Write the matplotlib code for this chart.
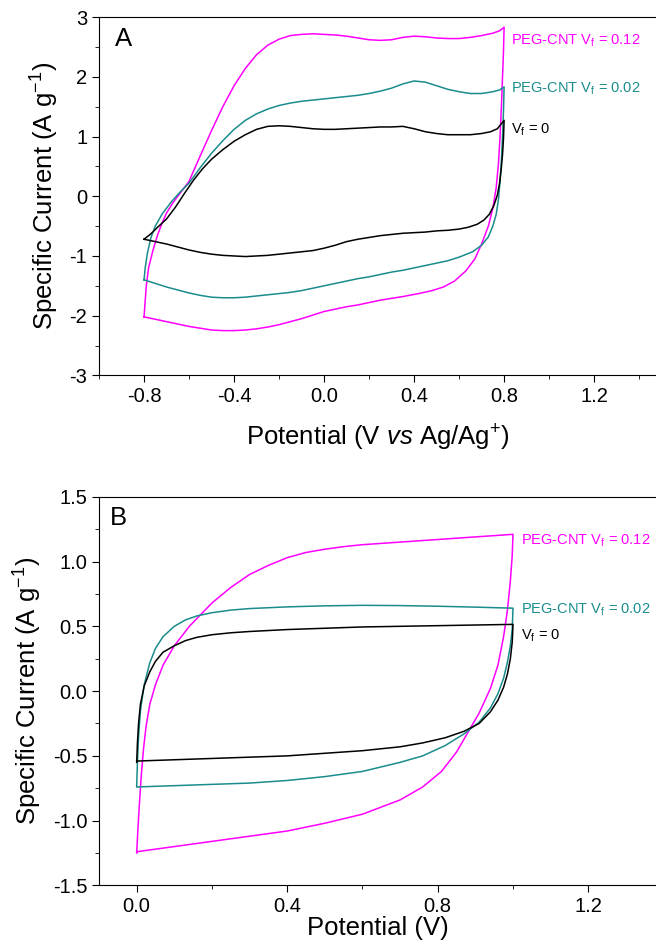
import matplotlib.pyplot as plt
from matplotlib.ticker import MultipleLocator

plt.rcParams['font.family'] = ['Liberation Sans', 'DejaVu Sans']
plt.rcParams['mathtext.fontset'] = 'custom'
plt.rcParams['mathtext.rm'] = 'Liberation Sans'
plt.rcParams['mathtext.it'] = 'Liberation Sans:italic'
plt.rcParams['axes.unicode_minus'] = False

MAG = '#ff00ff'
TEAL = '#1a8c8c'

# ---------------- panel A : CV vs Ag/Ag+ ----------------
a_pot_012 = [-0.8, -0.795, -0.79, -0.78, -0.76, -0.74, -0.72, -0.7, -0.67, -0.64, -0.6, -0.55, -0.5, -0.45,
             -0.4, -0.35, -0.3, -0.25, -0.2, -0.15, -0.1, -0.05, 0.0, 0.05, 0.1, 0.15, 0.2, 0.25, 0.3,
             0.35, 0.4, 0.45, 0.5, 0.55, 0.6, 0.65, 0.7, 0.75, 0.78, 0.8,
             0.797, 0.793, 0.788, 0.782, 0.775, 0.765, 0.75, 0.73, 0.7, 0.67, 0.63, 0.58, 0.53, 0.48,
             0.42, 0.35, 0.3, 0.25, 0.2, 0.15, 0.1, 0.05, 0.0, -0.05, -0.1, -0.15, -0.2, -0.25, -0.3,
             -0.35, -0.4, -0.45, -0.5, -0.55, -0.6, -0.65, -0.7, -0.75, -0.8]
a_cur_012 = [-2.02, -1.75, -1.5, -1.2, -0.9, -0.65, -0.45, -0.28, -0.1, 0.05, 0.25, 0.68, 1.1, 1.5,
             1.85, 2.14, 2.37, 2.53, 2.63, 2.69, 2.71, 2.72, 2.71, 2.7, 2.68, 2.65, 2.62, 2.61, 2.62,
             2.66, 2.68, 2.67, 2.65, 2.64, 2.64, 2.66, 2.69, 2.73, 2.77, 2.83,
             2.4, 2.0, 1.5, 1.0, 0.55, 0.15, -0.2, -0.5, -0.8, -1.05, -1.25, -1.42, -1.52, -1.58,
             -1.63, -1.68, -1.71, -1.74, -1.78, -1.82, -1.85, -1.89, -1.93, -1.99, -2.05, -2.1, -2.15, -2.19, -2.22,
             -2.24, -2.25, -2.25, -2.24, -2.21, -2.18, -2.14, -2.1, -2.06, -2.02]

a_pot_002 = [-0.8, -0.795, -0.785, -0.77, -0.75, -0.72, -0.68, -0.64, -0.6, -0.55, -0.5, -0.45, -0.4,
             -0.35, -0.3, -0.25, -0.2, -0.15, -0.1, -0.05, 0.0, 0.05, 0.1, 0.15, 0.2, 0.25, 0.3, 0.35,
             0.4, 0.45, 0.5, 0.55, 0.6, 0.65, 0.7, 0.75, 0.78, 0.8,
             0.797, 0.793, 0.788, 0.782, 0.775, 0.765, 0.75, 0.73, 0.7, 0.66, 0.6, 0.55, 0.5, 0.45,
             0.4, 0.35, 0.3, 0.25, 0.2, 0.15, 0.1, 0.05, 0.0, -0.05, -0.1, -0.15, -0.2, -0.25, -0.3,
             -0.35, -0.4, -0.45, -0.5, -0.55, -0.6, -0.65, -0.7, -0.75, -0.8]
a_cur_002 = [-1.4, -1.2, -0.95, -0.7, -0.5, -0.3, -0.1, 0.07, 0.22, 0.48, 0.72, 0.93, 1.12,
             1.27, 1.38, 1.46, 1.52, 1.56, 1.59, 1.61, 1.63, 1.65, 1.67, 1.69, 1.72, 1.76, 1.81, 1.88,
             1.93, 1.91, 1.85, 1.79, 1.75, 1.72, 1.72, 1.75, 1.78, 1.83,
             1.4, 1.0, 0.6, 0.25, -0.05, -0.3, -0.5, -0.68, -0.82, -0.93, -1.02, -1.08, -1.12, -1.16,
             -1.2, -1.24, -1.27, -1.31, -1.35, -1.38, -1.42, -1.46, -1.5, -1.54, -1.58, -1.61, -1.63, -1.65, -1.67,
             -1.69, -1.7, -1.7, -1.69, -1.66, -1.62, -1.57, -1.52, -1.46, -1.4]

a_pot_0 = [-0.8, -0.77, -0.74, -0.7, -0.66, -0.62, -0.58, -0.54, -0.5, -0.45, -0.4, -0.35, -0.3, -0.25,
           -0.2, -0.15, -0.1, -0.05, 0.0, 0.05, 0.1, 0.15, 0.2, 0.25, 0.3, 0.35, 0.4, 0.45, 0.5, 0.55,
           0.6, 0.65, 0.7, 0.74, 0.77, 0.8,
           0.797, 0.793, 0.787, 0.78, 0.77, 0.755, 0.735, 0.71, 0.68, 0.64, 0.6, 0.55, 0.5, 0.45,
           0.4, 0.35, 0.3, 0.25, 0.2, 0.15, 0.1, 0.05, 0.0, -0.05, -0.1, -0.15, -0.2, -0.25, -0.3,
           -0.35, -0.4, -0.45, -0.5, -0.55, -0.6, -0.65, -0.7, -0.75, -0.8]
a_cur_0 = [-0.72, -0.63, -0.52, -0.38, -0.18, 0.05, 0.27, 0.46, 0.62, 0.78, 0.92, 1.03, 1.12, 1.17,
           1.18, 1.17, 1.15, 1.13, 1.12, 1.12, 1.13, 1.14, 1.15, 1.16, 1.16, 1.17, 1.13, 1.08, 1.05, 1.03,
           1.03, 1.03, 1.05, 1.08, 1.13, 1.27,
           0.95, 0.7, 0.45, 0.22, 0.02, -0.15, -0.3, -0.4, -0.47, -0.52, -0.55, -0.57, -0.58, -0.6,
           -0.61, -0.62, -0.64, -0.66, -0.69, -0.72, -0.76, -0.82, -0.87, -0.91, -0.93, -0.95, -0.97, -0.99, -1.0,
           -1.01, -1.0, -0.99, -0.97, -0.94, -0.9, -0.85, -0.8, -0.76, -0.72]

# ---------------- panel B : CV vs potential ----------------
b_pot_012 = [0.0, 0.003, 0.007, 0.012, 0.018, 0.025, 0.035, 0.05, 0.07, 0.1, 0.14, 0.2, 0.25, 0.3, 0.35,
             0.4, 0.45, 0.5, 0.55, 0.6, 0.65, 0.7, 0.75, 0.8, 0.85, 0.9, 0.95, 1.0,
             0.998, 0.993, 0.985, 0.975, 0.96, 0.94, 0.91, 0.88, 0.85, 0.81, 0.76, 0.7, 0.6, 0.5, 0.4,
             0.3, 0.2, 0.1, 0.0]
b_cur_012 = [-1.25, -1.08, -0.88, -0.66, -0.45, -0.27, -0.1, 0.05, 0.2, 0.35, 0.5, 0.68, 0.8, 0.9, 0.97,
             1.03, 1.07, 1.095, 1.115, 1.13, 1.14, 1.15, 1.16, 1.17, 1.18, 1.19, 1.2, 1.21,
             1.05, 0.85, 0.62, 0.42, 0.2, 0.02, -0.17, -0.32, -0.47, -0.62, -0.74, -0.84, -0.95, -1.02, -1.08,
             -1.12, -1.16, -1.2, -1.24]

b_pot_002 = [0.0, 0.002, 0.005, 0.01, 0.02, 0.035, 0.05, 0.07, 0.1, 0.13, 0.16, 0.2, 0.25, 0.3, 0.4,
             0.5, 0.6, 0.7, 0.8, 0.9, 1.0,
             0.998, 0.993, 0.985, 0.975, 0.96, 0.94, 0.91, 0.87, 0.82, 0.76, 0.7, 0.6, 0.5, 0.4, 0.3,
             0.2, 0.1, 0.0]
b_cur_002 = [-0.73, -0.55, -0.35, -0.15, 0.05, 0.22, 0.33, 0.42, 0.5, 0.55, 0.58, 0.605, 0.625, 0.637, 0.65,
             0.658, 0.662, 0.66, 0.655, 0.648, 0.64,
             0.48, 0.35, 0.22, 0.1, -0.02, -0.13, -0.24, -0.33, -0.42, -0.5, -0.55, -0.62, -0.66, -0.69, -0.71,
             -0.72, -0.73, -0.74]

b_pot_0 = [0.0, 0.002, 0.005, 0.01, 0.02, 0.035, 0.05, 0.07, 0.1, 0.13, 0.16, 0.2, 0.25, 0.3, 0.4,
           0.5, 0.6, 0.7, 0.8, 0.9, 1.0,
           0.998, 0.993, 0.985, 0.975, 0.96, 0.94, 0.91, 0.87, 0.82, 0.76, 0.7, 0.6, 0.5, 0.4, 0.3,
           0.2, 0.1, 0.0]
b_cur_0 = [-0.55, -0.4, -0.25, -0.1, 0.04, 0.15, 0.23, 0.3, 0.35, 0.39, 0.415, 0.435, 0.45, 0.46, 0.475,
           0.485, 0.495, 0.5, 0.505, 0.51, 0.515,
           0.38, 0.25, 0.13, 0.03, -0.07, -0.16, -0.25, -0.31, -0.36, -0.4, -0.43, -0.46, -0.48, -0.5, -0.51,
           -0.52, -0.53, -0.54]

labels = ['PEG-CNT V$_\\mathregular{f}$ = 0.12', 'PEG-CNT V$_\\mathregular{f}$ = 0.02', 'V$_\\mathregular{f}$ = 0']
ylab = 'Specific Current (A g$^{\\mathregular{-1}}$)'

fig = plt.figure(figsize=(6.56, 9.48), dpi=100)
axA = fig.add_axes([0.151, 0.604, 0.849, 0.378])
axB = fig.add_axes([0.151, 0.066, 0.849, 0.410])


def style(ax):
    ax.spines['right'].set_visible(False)
    ax.tick_params(which='both', direction='out', top=False, right=False, labelsize=14.5)
    ax.tick_params(which='major', length=5)
    ax.tick_params(which='minor', length=3)


#------------------------------------------------------------
axA.plot(a_pot_012, a_cur_012, color=MAG, lw=1.1)
axA.plot(a_pot_002, a_cur_002, color=TEAL, lw=1.1)
axA.plot(a_pot_0, a_cur_0, color='black', lw=1.1)
axA.set_xlim(-1.0, 1.475)
axA.set_ylim(-3, 3)
axA.xaxis.set_major_locator(MultipleLocator(0.4))
axA.xaxis.set_minor_locator(MultipleLocator(0.2))
axA.yaxis.set_major_locator(MultipleLocator(1))
axA.yaxis.set_minor_locator(MultipleLocator(0.5))
axA.xaxis.set_major_formatter(plt.FuncFormatter(lambda v, p: f'{v:.1f}'))
style(axA)
axA.set_xticks([-0.8, -0.4, 0.0, 0.4, 0.8, 1.2])
axA.set_ylabel(ylab, fontsize=18.5, labelpad=6)
axA.set_xlabel('Potential (V $\\it{vs}$ Ag/Ag$^{\\mathregular{+}}$)', fontsize=18.5, labelpad=12)
axA.text(-0.93, 2.52, 'A', fontsize=18.5)
axA.text(0.83, 2.6, labels[0], color=MAG, fontsize=10.5, va='center')
axA.text(0.83, 1.8, labels[1], color=TEAL, fontsize=10.5, va='center')
axA.text(0.83, 1.12, labels[2], color='black', fontsize=10.5, va='center')

#------------------------------------------------------------
axB.plot(b_pot_012, b_cur_012, color=MAG, lw=1.1)
axB.plot(b_pot_002, b_cur_002, color=TEAL, lw=1.1)
axB.plot(b_pot_0, b_cur_0, color='black', lw=1.1)
axB.set_xlim(-0.1, 1.38)
axB.set_ylim(-1.5, 1.5)
axB.xaxis.set_major_locator(MultipleLocator(0.4))
axB.xaxis.set_minor_locator(MultipleLocator(0.2))
axB.yaxis.set_major_locator(MultipleLocator(0.5))
axB.yaxis.set_minor_locator(MultipleLocator(0.25))
axB.xaxis.set_major_formatter(plt.FuncFormatter(lambda v, p: f'{v:.1f}'))
axB.yaxis.set_major_formatter(plt.FuncFormatter(lambda v, p: f'{v:.1f}'))
style(axB)
axB.set_ylabel(ylab, fontsize=18.5, labelpad=6)
axB.set_xlabel('Potential (V)', fontsize=18.5, labelpad=0)
axB.text(-0.07, 1.28, 'B', fontsize=18.5)
axB.text(1.02, 1.16, labels[0], color=MAG, fontsize=10.5, va='center')
axB.text(1.02, 0.63, labels[1], color=TEAL, fontsize=10.5, va='center')
axB.text(1.02, 0.43, labels[2], color='black', fontsize=10.5, va='center')

fig.savefig('out.png', dpi=100)
